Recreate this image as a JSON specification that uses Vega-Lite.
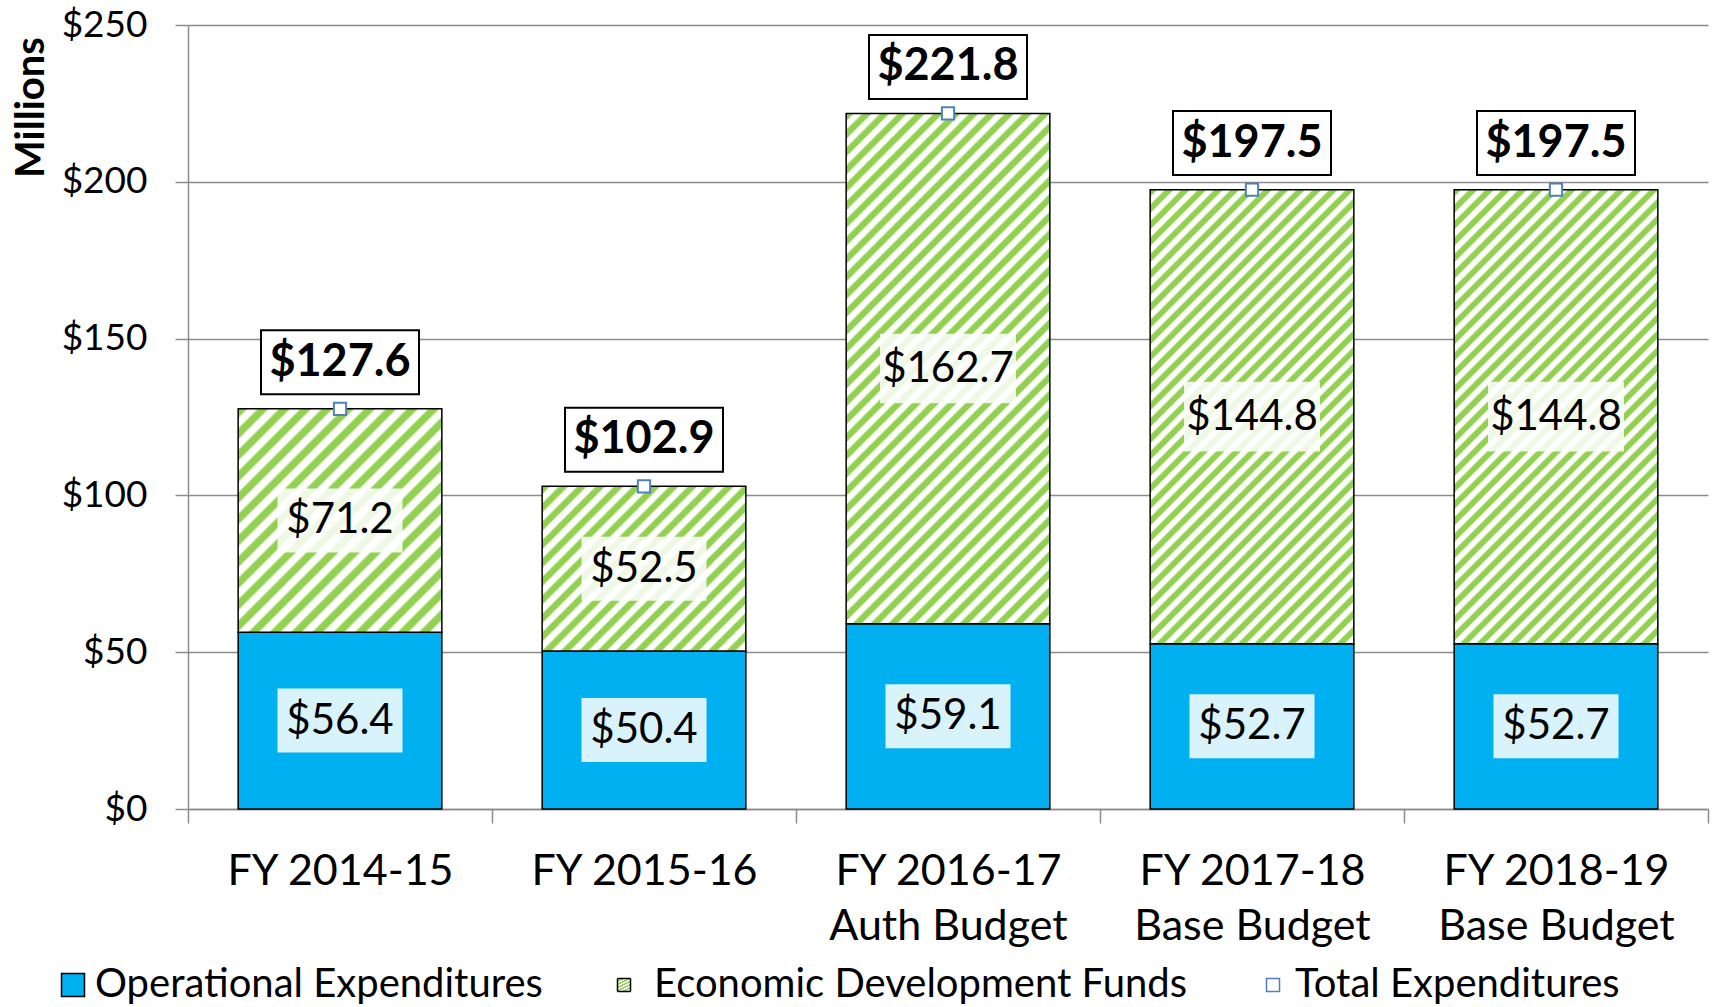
{
"$schema": "https://vega.github.io/schema/vega-lite/v6.json",
"width": 1520, "height": 784,
"autosize": {"type": "none"},
"padding": {"left": 188, "top": 25, "right": 4, "bottom": 198},
"background": "white",
"config": {"font": "Lato", "view": {"stroke": null},
 "legend": {"orient": "none", "title": null, "padding": 0, "symbolType": "square", "labelFontSize": 40, "labelFont": "Lato", "labelColor": "black", "labelLimit": 800, "direction": "horizontal"},
 "axisY": {"labelExpr": "'$' + datum.value", "labelFontSize": 37, "labelPadding": 28, "tickSize": 13, "grid": true, "gridColor": "#8c8c8c", "gridWidth": 1.5, "domainColor": "#8c8c8c", "domainWidth": 1.5, "tickColor": "#8c8c8c", "tickWidth": 1.5, "labelColor": "black", "labelFont": "Lato", "titleFont": "Lato", "titleFontSize": 40, "titleFontWeight": "bold", "titleColor": "black", "titleAngle": -90, "titleX": -157, "titleY": 82, "titleAlign": "center", "titleBaseline": "middle"}
},
"data": {"values": [
 {"year": "FY 2014-15", "op": 56.4, "eco": 71.2, "total": 127.6},
 {"year": "FY 2015-16", "op": 50.4, "eco": 52.5, "total": 102.9},
 {"year": "FY 2016-17|Auth Budget", "op": 59.1, "eco": 162.7, "total": 221.8},
 {"year": "FY 2017-18|Base Budget", "op": 52.7, "eco": 144.8, "total": 197.5},
 {"year": "FY 2018-19|Base Budget", "op": 52.7, "eco": 144.8, "total": 197.5}
]},
"transform": [
 {"calculate": "datum.op / 2", "as": "opMid"},
 {"calculate": "datum.op + datum.eco / 2", "as": "ecoMid"}
],
"encoding": {
 "x": {"field": "year", "type": "nominal", "sort": null, "title": null,
  "scale": {"paddingInner": 0, "paddingOuter": 0},
  "axis": {"labelExpr": "datum.value ? split(datum.value, '|') : ''", "labelAngle": 0, "labelFontSize": 43, "labelLineHeight": 55, "labelPadding": 27, "labelBaseline": "top", "labelLimit": 600, "tickBand": "extent", "tickSize": 14, "domainColor": "#8c8c8c", "tickColor": "#8c8c8c", "domainWidth": 1.5, "tickWidth": 1.5, "grid": false, "labelColor": "black", "labelFont": "Lato"}}
},
"layer": [
 {"mark": {"type": "bar", "stroke": "black", "strokeWidth": 1.5, "width": {"band": 0.67}},
  "encoding": {
   "y": {"field": "op", "type": "quantitative", "title": "Millions", "scale": {"domain": [0, 250], "nice": false}, "axis": {"values": [0, 50, 100, 150, 200, 250]}},
   "color": {"datum": "Operational Expenditures", "type": "nominal", "scale": {"range": ["#00b0f0"]},
    "legend": {"legendX": -135, "legendY": 940, "symbolSize": 529, "symbolStrokeColor": "black", "symbolStrokeWidth": 1.5, "labelOffset": 2}}
  }},
 {"transform": [{"filter": "datum.year === 'FY 2014-15'"}],
  "mark": {"type": "bar", "stroke": "black", "strokeWidth": 1.5, "width": {"band": 0.67}, "fill": {"gradient": "linear", "x1": 0, "y1": 0, "x2": 0.9529, "y2": 1.043, "stops": [
{"offset":0,"color":"#92d050"},{"offset":0.0175,"color":"#92d050"},{"offset":0.025,"color":"#ffffff"},{"offset":0.0425,"color":"#ffffff"},
{"offset":0.05,"color":"#92d050"},{"offset":0.0675,"color":"#92d050"},{"offset":0.075,"color":"#ffffff"},{"offset":0.0925,"color":"#ffffff"},
{"offset":0.1,"color":"#92d050"},{"offset":0.1175,"color":"#92d050"},{"offset":0.125,"color":"#ffffff"},{"offset":0.1425,"color":"#ffffff"},
{"offset":0.15,"color":"#92d050"},{"offset":0.1675,"color":"#92d050"},{"offset":0.175,"color":"#ffffff"},{"offset":0.1925,"color":"#ffffff"},
{"offset":0.2,"color":"#92d050"},{"offset":0.2175,"color":"#92d050"},{"offset":0.225,"color":"#ffffff"},{"offset":0.2425,"color":"#ffffff"},
{"offset":0.25,"color":"#92d050"},{"offset":0.2675,"color":"#92d050"},{"offset":0.275,"color":"#ffffff"},{"offset":0.2925,"color":"#ffffff"},
{"offset":0.3,"color":"#92d050"},{"offset":0.3175,"color":"#92d050"},{"offset":0.325,"color":"#ffffff"},{"offset":0.3425,"color":"#ffffff"},
{"offset":0.35,"color":"#92d050"},{"offset":0.3675,"color":"#92d050"},{"offset":0.375,"color":"#ffffff"},{"offset":0.3925,"color":"#ffffff"},
{"offset":0.4,"color":"#92d050"},{"offset":0.4175,"color":"#92d050"},{"offset":0.425,"color":"#ffffff"},{"offset":0.4425,"color":"#ffffff"},
{"offset":0.45,"color":"#92d050"},{"offset":0.4675,"color":"#92d050"},{"offset":0.475,"color":"#ffffff"},{"offset":0.4925,"color":"#ffffff"},
{"offset":0.5,"color":"#92d050"},{"offset":0.5175,"color":"#92d050"},{"offset":0.525,"color":"#ffffff"},{"offset":0.5425,"color":"#ffffff"},
{"offset":0.55,"color":"#92d050"},{"offset":0.5675,"color":"#92d050"},{"offset":0.575,"color":"#ffffff"},{"offset":0.5925,"color":"#ffffff"},
{"offset":0.6,"color":"#92d050"},{"offset":0.6175,"color":"#92d050"},{"offset":0.625,"color":"#ffffff"},{"offset":0.6425,"color":"#ffffff"},
{"offset":0.65,"color":"#92d050"},{"offset":0.6675,"color":"#92d050"},{"offset":0.675,"color":"#ffffff"},{"offset":0.6925,"color":"#ffffff"},
{"offset":0.7,"color":"#92d050"},{"offset":0.7175,"color":"#92d050"},{"offset":0.725,"color":"#ffffff"},{"offset":0.7425,"color":"#ffffff"},
{"offset":0.75,"color":"#92d050"},{"offset":0.7675,"color":"#92d050"},{"offset":0.775,"color":"#ffffff"},{"offset":0.7925,"color":"#ffffff"},
{"offset":0.8,"color":"#92d050"},{"offset":0.8175,"color":"#92d050"},{"offset":0.825,"color":"#ffffff"},{"offset":0.8425,"color":"#ffffff"},
{"offset":0.85,"color":"#92d050"},{"offset":0.8675,"color":"#92d050"},{"offset":0.875,"color":"#ffffff"},{"offset":0.8925,"color":"#ffffff"},
{"offset":0.9,"color":"#92d050"},{"offset":0.9175,"color":"#92d050"},{"offset":0.925,"color":"#ffffff"},{"offset":0.9425,"color":"#ffffff"},
{"offset":0.95,"color":"#92d050"},{"offset":0.9675,"color":"#92d050"},{"offset":0.975,"color":"#ffffff"},{"offset":0.9925,"color":"#ffffff"}
  ]}},
  "encoding": {"y": {"field": "op", "type": "quantitative", "title": "Millions"}, "y2": {"field": "total"}}},
 {"transform": [{"filter": "datum.year === 'FY 2015-16'"}],
  "mark": {"type": "bar", "stroke": "black", "strokeWidth": 1.5, "width": {"band": 0.67}, "fill": {"gradient": "linear", "x1": 0, "y1": 0, "x2": 1.0944, "y2": 0.883, "stops": [
{"offset":0,"color":"#92d050"},{"offset":0.0175,"color":"#92d050"},{"offset":0.025,"color":"#ffffff"},{"offset":0.0425,"color":"#ffffff"},
{"offset":0.05,"color":"#92d050"},{"offset":0.0675,"color":"#92d050"},{"offset":0.075,"color":"#ffffff"},{"offset":0.0925,"color":"#ffffff"},
{"offset":0.1,"color":"#92d050"},{"offset":0.1175,"color":"#92d050"},{"offset":0.125,"color":"#ffffff"},{"offset":0.1425,"color":"#ffffff"},
{"offset":0.15,"color":"#92d050"},{"offset":0.1675,"color":"#92d050"},{"offset":0.175,"color":"#ffffff"},{"offset":0.1925,"color":"#ffffff"},
{"offset":0.2,"color":"#92d050"},{"offset":0.2175,"color":"#92d050"},{"offset":0.225,"color":"#ffffff"},{"offset":0.2425,"color":"#ffffff"},
{"offset":0.25,"color":"#92d050"},{"offset":0.2675,"color":"#92d050"},{"offset":0.275,"color":"#ffffff"},{"offset":0.2925,"color":"#ffffff"},
{"offset":0.3,"color":"#92d050"},{"offset":0.3175,"color":"#92d050"},{"offset":0.325,"color":"#ffffff"},{"offset":0.3425,"color":"#ffffff"},
{"offset":0.35,"color":"#92d050"},{"offset":0.3675,"color":"#92d050"},{"offset":0.375,"color":"#ffffff"},{"offset":0.3925,"color":"#ffffff"},
{"offset":0.4,"color":"#92d050"},{"offset":0.4175,"color":"#92d050"},{"offset":0.425,"color":"#ffffff"},{"offset":0.4425,"color":"#ffffff"},
{"offset":0.45,"color":"#92d050"},{"offset":0.4675,"color":"#92d050"},{"offset":0.475,"color":"#ffffff"},{"offset":0.4925,"color":"#ffffff"},
{"offset":0.5,"color":"#92d050"},{"offset":0.5175,"color":"#92d050"},{"offset":0.525,"color":"#ffffff"},{"offset":0.5425,"color":"#ffffff"},
{"offset":0.55,"color":"#92d050"},{"offset":0.5675,"color":"#92d050"},{"offset":0.575,"color":"#ffffff"},{"offset":0.5925,"color":"#ffffff"},
{"offset":0.6,"color":"#92d050"},{"offset":0.6175,"color":"#92d050"},{"offset":0.625,"color":"#ffffff"},{"offset":0.6425,"color":"#ffffff"},
{"offset":0.65,"color":"#92d050"},{"offset":0.6675,"color":"#92d050"},{"offset":0.675,"color":"#ffffff"},{"offset":0.6925,"color":"#ffffff"},
{"offset":0.7,"color":"#92d050"},{"offset":0.7175,"color":"#92d050"},{"offset":0.725,"color":"#ffffff"},{"offset":0.7425,"color":"#ffffff"},
{"offset":0.75,"color":"#92d050"},{"offset":0.7675,"color":"#92d050"},{"offset":0.775,"color":"#ffffff"},{"offset":0.7925,"color":"#ffffff"},
{"offset":0.8,"color":"#92d050"},{"offset":0.8175,"color":"#92d050"},{"offset":0.825,"color":"#ffffff"},{"offset":0.8425,"color":"#ffffff"},
{"offset":0.85,"color":"#92d050"},{"offset":0.8675,"color":"#92d050"},{"offset":0.875,"color":"#ffffff"},{"offset":0.8925,"color":"#ffffff"},
{"offset":0.9,"color":"#92d050"},{"offset":0.9175,"color":"#92d050"},{"offset":0.925,"color":"#ffffff"},{"offset":0.9425,"color":"#ffffff"},
{"offset":0.95,"color":"#92d050"},{"offset":0.9675,"color":"#92d050"},{"offset":0.975,"color":"#ffffff"},{"offset":0.9925,"color":"#ffffff"}
  ]}},
  "encoding": {"y": {"field": "op", "type": "quantitative", "title": "Millions"}, "y2": {"field": "total"},
   "strokeDash": {"datum": "Economic Development Funds", "type": "nominal", "scale": {"range": [[1, 0]]},
    "legend": {"legendX": 416, "legendY": 940, "symbolSize": 169, "labelOffset": 10}}}},
 {"transform": [{"filter": "datum.year === 'FY 2016-17|Auth Budget'"}],
  "mark": {"type": "bar", "stroke": "black", "strokeWidth": 1.5, "width": {"band": 0.67}, "fill": {"gradient": "linear", "x1": 0, "y1": 0, "x2": 0.4826, "y2": 1.2069, "stops": [
{"offset":0,"color":"#92d050"},{"offset":0.009,"color":"#92d050"},{"offset":0.0125,"color":"#ffffff"},{"offset":0.021,"color":"#ffffff"},
{"offset":0.025,"color":"#92d050"},{"offset":0.034,"color":"#92d050"},{"offset":0.0375,"color":"#ffffff"},{"offset":0.046,"color":"#ffffff"},
{"offset":0.05,"color":"#92d050"},{"offset":0.059,"color":"#92d050"},{"offset":0.0625,"color":"#ffffff"},{"offset":0.071,"color":"#ffffff"},
{"offset":0.075,"color":"#92d050"},{"offset":0.084,"color":"#92d050"},{"offset":0.0875,"color":"#ffffff"},{"offset":0.096,"color":"#ffffff"},
{"offset":0.1,"color":"#92d050"},{"offset":0.109,"color":"#92d050"},{"offset":0.1125,"color":"#ffffff"},{"offset":0.121,"color":"#ffffff"},
{"offset":0.125,"color":"#92d050"},{"offset":0.134,"color":"#92d050"},{"offset":0.1375,"color":"#ffffff"},{"offset":0.146,"color":"#ffffff"},
{"offset":0.15,"color":"#92d050"},{"offset":0.159,"color":"#92d050"},{"offset":0.1625,"color":"#ffffff"},{"offset":0.171,"color":"#ffffff"},
{"offset":0.175,"color":"#92d050"},{"offset":0.184,"color":"#92d050"},{"offset":0.1875,"color":"#ffffff"},{"offset":0.196,"color":"#ffffff"},
{"offset":0.2,"color":"#92d050"},{"offset":0.209,"color":"#92d050"},{"offset":0.2125,"color":"#ffffff"},{"offset":0.221,"color":"#ffffff"},
{"offset":0.225,"color":"#92d050"},{"offset":0.234,"color":"#92d050"},{"offset":0.2375,"color":"#ffffff"},{"offset":0.246,"color":"#ffffff"},
{"offset":0.25,"color":"#92d050"},{"offset":0.259,"color":"#92d050"},{"offset":0.2625,"color":"#ffffff"},{"offset":0.271,"color":"#ffffff"},
{"offset":0.275,"color":"#92d050"},{"offset":0.284,"color":"#92d050"},{"offset":0.2875,"color":"#ffffff"},{"offset":0.296,"color":"#ffffff"},
{"offset":0.3,"color":"#92d050"},{"offset":0.309,"color":"#92d050"},{"offset":0.3125,"color":"#ffffff"},{"offset":0.321,"color":"#ffffff"},
{"offset":0.325,"color":"#92d050"},{"offset":0.334,"color":"#92d050"},{"offset":0.3375,"color":"#ffffff"},{"offset":0.346,"color":"#ffffff"},
{"offset":0.35,"color":"#92d050"},{"offset":0.359,"color":"#92d050"},{"offset":0.3625,"color":"#ffffff"},{"offset":0.371,"color":"#ffffff"},
{"offset":0.375,"color":"#92d050"},{"offset":0.384,"color":"#92d050"},{"offset":0.3875,"color":"#ffffff"},{"offset":0.396,"color":"#ffffff"},
{"offset":0.4,"color":"#92d050"},{"offset":0.409,"color":"#92d050"},{"offset":0.4125,"color":"#ffffff"},{"offset":0.421,"color":"#ffffff"},
{"offset":0.425,"color":"#92d050"},{"offset":0.434,"color":"#92d050"},{"offset":0.4375,"color":"#ffffff"},{"offset":0.446,"color":"#ffffff"},
{"offset":0.45,"color":"#92d050"},{"offset":0.459,"color":"#92d050"},{"offset":0.4625,"color":"#ffffff"},{"offset":0.471,"color":"#ffffff"},
{"offset":0.475,"color":"#92d050"},{"offset":0.484,"color":"#92d050"},{"offset":0.4875,"color":"#ffffff"},{"offset":0.496,"color":"#ffffff"},
{"offset":0.5,"color":"#92d050"},{"offset":0.509,"color":"#92d050"},{"offset":0.5125,"color":"#ffffff"},{"offset":0.521,"color":"#ffffff"},
{"offset":0.525,"color":"#92d050"},{"offset":0.534,"color":"#92d050"},{"offset":0.5375,"color":"#ffffff"},{"offset":0.546,"color":"#ffffff"},
{"offset":0.55,"color":"#92d050"},{"offset":0.559,"color":"#92d050"},{"offset":0.5625,"color":"#ffffff"},{"offset":0.571,"color":"#ffffff"},
{"offset":0.575,"color":"#92d050"},{"offset":0.584,"color":"#92d050"},{"offset":0.5875,"color":"#ffffff"},{"offset":0.596,"color":"#ffffff"},
{"offset":0.6,"color":"#92d050"},{"offset":0.609,"color":"#92d050"},{"offset":0.6125,"color":"#ffffff"},{"offset":0.621,"color":"#ffffff"},
{"offset":0.625,"color":"#92d050"},{"offset":0.634,"color":"#92d050"},{"offset":0.6375,"color":"#ffffff"},{"offset":0.646,"color":"#ffffff"},
{"offset":0.65,"color":"#92d050"},{"offset":0.659,"color":"#92d050"},{"offset":0.6625,"color":"#ffffff"},{"offset":0.671,"color":"#ffffff"},
{"offset":0.675,"color":"#92d050"},{"offset":0.684,"color":"#92d050"},{"offset":0.6875,"color":"#ffffff"},{"offset":0.696,"color":"#ffffff"},
{"offset":0.7,"color":"#92d050"},{"offset":0.709,"color":"#92d050"},{"offset":0.7125,"color":"#ffffff"},{"offset":0.721,"color":"#ffffff"},
{"offset":0.725,"color":"#92d050"},{"offset":0.734,"color":"#92d050"},{"offset":0.7375,"color":"#ffffff"},{"offset":0.746,"color":"#ffffff"},
{"offset":0.75,"color":"#92d050"},{"offset":0.759,"color":"#92d050"},{"offset":0.7625,"color":"#ffffff"},{"offset":0.771,"color":"#ffffff"},
{"offset":0.775,"color":"#92d050"},{"offset":0.784,"color":"#92d050"},{"offset":0.7875,"color":"#ffffff"},{"offset":0.796,"color":"#ffffff"},
{"offset":0.8,"color":"#92d050"},{"offset":0.809,"color":"#92d050"},{"offset":0.8125,"color":"#ffffff"},{"offset":0.821,"color":"#ffffff"},
{"offset":0.825,"color":"#92d050"},{"offset":0.834,"color":"#92d050"},{"offset":0.8375,"color":"#ffffff"},{"offset":0.846,"color":"#ffffff"},
{"offset":0.85,"color":"#92d050"},{"offset":0.859,"color":"#92d050"},{"offset":0.8625,"color":"#ffffff"},{"offset":0.871,"color":"#ffffff"},
{"offset":0.875,"color":"#92d050"},{"offset":0.884,"color":"#92d050"},{"offset":0.8875,"color":"#ffffff"},{"offset":0.896,"color":"#ffffff"},
{"offset":0.9,"color":"#92d050"},{"offset":0.909,"color":"#92d050"},{"offset":0.9125,"color":"#ffffff"},{"offset":0.921,"color":"#ffffff"},
{"offset":0.925,"color":"#92d050"},{"offset":0.934,"color":"#92d050"},{"offset":0.9375,"color":"#ffffff"},{"offset":0.946,"color":"#ffffff"},
{"offset":0.95,"color":"#92d050"},{"offset":0.959,"color":"#92d050"},{"offset":0.9625,"color":"#ffffff"},{"offset":0.971,"color":"#ffffff"},
{"offset":0.975,"color":"#92d050"},{"offset":0.984,"color":"#92d050"},{"offset":0.9875,"color":"#ffffff"},{"offset":0.996,"color":"#ffffff"}
  ]}},
  "encoding": {"y": {"field": "op", "type": "quantitative", "title": "Millions"}, "y2": {"field": "total"}}},
 {"transform": [{"filter": {"field": "year", "oneOf": ["FY 2017-18|Base Budget", "FY 2018-19|Base Budget"]}}],
  "mark": {"type": "bar", "stroke": "black", "strokeWidth": 1.5, "width": {"band": 0.67}, "fill": {"gradient": "linear", "x1": 0, "y1": 0, "x2": 0.5417, "y2": 1.2059, "stops": [
{"offset":0,"color":"#92d050"},{"offset":0.009,"color":"#92d050"},{"offset":0.0125,"color":"#ffffff"},{"offset":0.021,"color":"#ffffff"},
{"offset":0.025,"color":"#92d050"},{"offset":0.034,"color":"#92d050"},{"offset":0.0375,"color":"#ffffff"},{"offset":0.046,"color":"#ffffff"},
{"offset":0.05,"color":"#92d050"},{"offset":0.059,"color":"#92d050"},{"offset":0.0625,"color":"#ffffff"},{"offset":0.071,"color":"#ffffff"},
{"offset":0.075,"color":"#92d050"},{"offset":0.084,"color":"#92d050"},{"offset":0.0875,"color":"#ffffff"},{"offset":0.096,"color":"#ffffff"},
{"offset":0.1,"color":"#92d050"},{"offset":0.109,"color":"#92d050"},{"offset":0.1125,"color":"#ffffff"},{"offset":0.121,"color":"#ffffff"},
{"offset":0.125,"color":"#92d050"},{"offset":0.134,"color":"#92d050"},{"offset":0.1375,"color":"#ffffff"},{"offset":0.146,"color":"#ffffff"},
{"offset":0.15,"color":"#92d050"},{"offset":0.159,"color":"#92d050"},{"offset":0.1625,"color":"#ffffff"},{"offset":0.171,"color":"#ffffff"},
{"offset":0.175,"color":"#92d050"},{"offset":0.184,"color":"#92d050"},{"offset":0.1875,"color":"#ffffff"},{"offset":0.196,"color":"#ffffff"},
{"offset":0.2,"color":"#92d050"},{"offset":0.209,"color":"#92d050"},{"offset":0.2125,"color":"#ffffff"},{"offset":0.221,"color":"#ffffff"},
{"offset":0.225,"color":"#92d050"},{"offset":0.234,"color":"#92d050"},{"offset":0.2375,"color":"#ffffff"},{"offset":0.246,"color":"#ffffff"},
{"offset":0.25,"color":"#92d050"},{"offset":0.259,"color":"#92d050"},{"offset":0.2625,"color":"#ffffff"},{"offset":0.271,"color":"#ffffff"},
{"offset":0.275,"color":"#92d050"},{"offset":0.284,"color":"#92d050"},{"offset":0.2875,"color":"#ffffff"},{"offset":0.296,"color":"#ffffff"},
{"offset":0.3,"color":"#92d050"},{"offset":0.309,"color":"#92d050"},{"offset":0.3125,"color":"#ffffff"},{"offset":0.321,"color":"#ffffff"},
{"offset":0.325,"color":"#92d050"},{"offset":0.334,"color":"#92d050"},{"offset":0.3375,"color":"#ffffff"},{"offset":0.346,"color":"#ffffff"},
{"offset":0.35,"color":"#92d050"},{"offset":0.359,"color":"#92d050"},{"offset":0.3625,"color":"#ffffff"},{"offset":0.371,"color":"#ffffff"},
{"offset":0.375,"color":"#92d050"},{"offset":0.384,"color":"#92d050"},{"offset":0.3875,"color":"#ffffff"},{"offset":0.396,"color":"#ffffff"},
{"offset":0.4,"color":"#92d050"},{"offset":0.409,"color":"#92d050"},{"offset":0.4125,"color":"#ffffff"},{"offset":0.421,"color":"#ffffff"},
{"offset":0.425,"color":"#92d050"},{"offset":0.434,"color":"#92d050"},{"offset":0.4375,"color":"#ffffff"},{"offset":0.446,"color":"#ffffff"},
{"offset":0.45,"color":"#92d050"},{"offset":0.459,"color":"#92d050"},{"offset":0.4625,"color":"#ffffff"},{"offset":0.471,"color":"#ffffff"},
{"offset":0.475,"color":"#92d050"},{"offset":0.484,"color":"#92d050"},{"offset":0.4875,"color":"#ffffff"},{"offset":0.496,"color":"#ffffff"},
{"offset":0.5,"color":"#92d050"},{"offset":0.509,"color":"#92d050"},{"offset":0.5125,"color":"#ffffff"},{"offset":0.521,"color":"#ffffff"},
{"offset":0.525,"color":"#92d050"},{"offset":0.534,"color":"#92d050"},{"offset":0.5375,"color":"#ffffff"},{"offset":0.546,"color":"#ffffff"},
{"offset":0.55,"color":"#92d050"},{"offset":0.559,"color":"#92d050"},{"offset":0.5625,"color":"#ffffff"},{"offset":0.571,"color":"#ffffff"},
{"offset":0.575,"color":"#92d050"},{"offset":0.584,"color":"#92d050"},{"offset":0.5875,"color":"#ffffff"},{"offset":0.596,"color":"#ffffff"},
{"offset":0.6,"color":"#92d050"},{"offset":0.609,"color":"#92d050"},{"offset":0.6125,"color":"#ffffff"},{"offset":0.621,"color":"#ffffff"},
{"offset":0.625,"color":"#92d050"},{"offset":0.634,"color":"#92d050"},{"offset":0.6375,"color":"#ffffff"},{"offset":0.646,"color":"#ffffff"},
{"offset":0.65,"color":"#92d050"},{"offset":0.659,"color":"#92d050"},{"offset":0.6625,"color":"#ffffff"},{"offset":0.671,"color":"#ffffff"},
{"offset":0.675,"color":"#92d050"},{"offset":0.684,"color":"#92d050"},{"offset":0.6875,"color":"#ffffff"},{"offset":0.696,"color":"#ffffff"},
{"offset":0.7,"color":"#92d050"},{"offset":0.709,"color":"#92d050"},{"offset":0.7125,"color":"#ffffff"},{"offset":0.721,"color":"#ffffff"},
{"offset":0.725,"color":"#92d050"},{"offset":0.734,"color":"#92d050"},{"offset":0.7375,"color":"#ffffff"},{"offset":0.746,"color":"#ffffff"},
{"offset":0.75,"color":"#92d050"},{"offset":0.759,"color":"#92d050"},{"offset":0.7625,"color":"#ffffff"},{"offset":0.771,"color":"#ffffff"},
{"offset":0.775,"color":"#92d050"},{"offset":0.784,"color":"#92d050"},{"offset":0.7875,"color":"#ffffff"},{"offset":0.796,"color":"#ffffff"},
{"offset":0.8,"color":"#92d050"},{"offset":0.809,"color":"#92d050"},{"offset":0.8125,"color":"#ffffff"},{"offset":0.821,"color":"#ffffff"},
{"offset":0.825,"color":"#92d050"},{"offset":0.834,"color":"#92d050"},{"offset":0.8375,"color":"#ffffff"},{"offset":0.846,"color":"#ffffff"},
{"offset":0.85,"color":"#92d050"},{"offset":0.859,"color":"#92d050"},{"offset":0.8625,"color":"#ffffff"},{"offset":0.871,"color":"#ffffff"},
{"offset":0.875,"color":"#92d050"},{"offset":0.884,"color":"#92d050"},{"offset":0.8875,"color":"#ffffff"},{"offset":0.896,"color":"#ffffff"},
{"offset":0.9,"color":"#92d050"},{"offset":0.909,"color":"#92d050"},{"offset":0.9125,"color":"#ffffff"},{"offset":0.921,"color":"#ffffff"},
{"offset":0.925,"color":"#92d050"},{"offset":0.934,"color":"#92d050"},{"offset":0.9375,"color":"#ffffff"},{"offset":0.946,"color":"#ffffff"},
{"offset":0.95,"color":"#92d050"},{"offset":0.959,"color":"#92d050"},{"offset":0.9625,"color":"#ffffff"},{"offset":0.971,"color":"#ffffff"},
{"offset":0.975,"color":"#92d050"},{"offset":0.984,"color":"#92d050"},{"offset":0.9875,"color":"#ffffff"},{"offset":0.996,"color":"#ffffff"}
  ]}},
  "encoding": {"y": {"field": "op", "type": "quantitative", "title": "Millions"}, "y2": {"field": "total"}}},
 {"mark": {"type": "point", "filled": true, "fill": "#ffffff", "stroke": "#4f81bd", "strokeWidth": 2, "size": 150, "opacity": 1},
  "encoding": {
   "y": {"field": "total", "type": "quantitative", "title": "Millions"},
   "shape": {"datum": "Total Expenditures", "type": "nominal", "scale": {"range": ["square"]},
    "legend": {"legendX": 1065, "legendY": 940, "symbolSize": 169, "labelOffset": 2}}
  }},
 {"mark": {"type": "point", "shape": "M-1,-0.994L1,-0.994L1,-0.184L-1,-0.184Z", "filled": true, "fill": "#ffffff", "stroke": "black", "strokeWidth": 2, "size": 24964, "opacity": 1},
  "encoding": {"y": {"field": "total", "type": "quantitative", "title": "Millions"}}},
 {"mark": {"type": "text", "fontSize": 45, "fontWeight": "bold", "font": "Lato", "color": "black", "baseline": "middle", "align": "center", "dy": -47},
  "encoding": {"y": {"field": "total", "type": "quantitative", "title": "Millions"}, "text": {"field": "total", "type": "quantitative", "format": "$.1f"}}},
 {"mark": {"type": "point", "shape": "M-1,-0.512L1,-0.512L1,0.512L-1,0.512Z", "filled": true, "fill": "#ffffff", "strokeOpacity": 0, "size": 15625, "opacity": 0.85},
  "encoding": {"y": {"field": "opMid", "type": "quantitative", "title": "Millions"}}},
 {"mark": {"type": "text", "fontSize": 42, "font": "Lato", "color": "black", "baseline": "middle", "align": "center"},
  "encoding": {"y": {"field": "opMid", "type": "quantitative", "title": "Millions"}, "text": {"field": "op", "type": "quantitative", "format": "$.1f"}}},
 {"mark": {"type": "point", "shape": "M-1,-0.512L1,-0.512L1,0.512L-1,0.512Z", "filled": true, "fill": "#ffffff", "strokeOpacity": 0, "opacity": 0.85},
  "encoding": {"y": {"field": "ecoMid", "type": "quantitative", "title": "Millions"}, "size": {"condition": {"test": "datum.eco >= 100", "value": 18496}, "value": 15625}}},
 {"mark": {"type": "text", "fontSize": 42, "font": "Lato", "color": "black", "baseline": "middle", "align": "center"},
  "encoding": {"y": {"field": "ecoMid", "type": "quantitative", "title": "Millions"}, "text": {"field": "eco", "type": "quantitative", "format": "$.1f"}}}
]
}
